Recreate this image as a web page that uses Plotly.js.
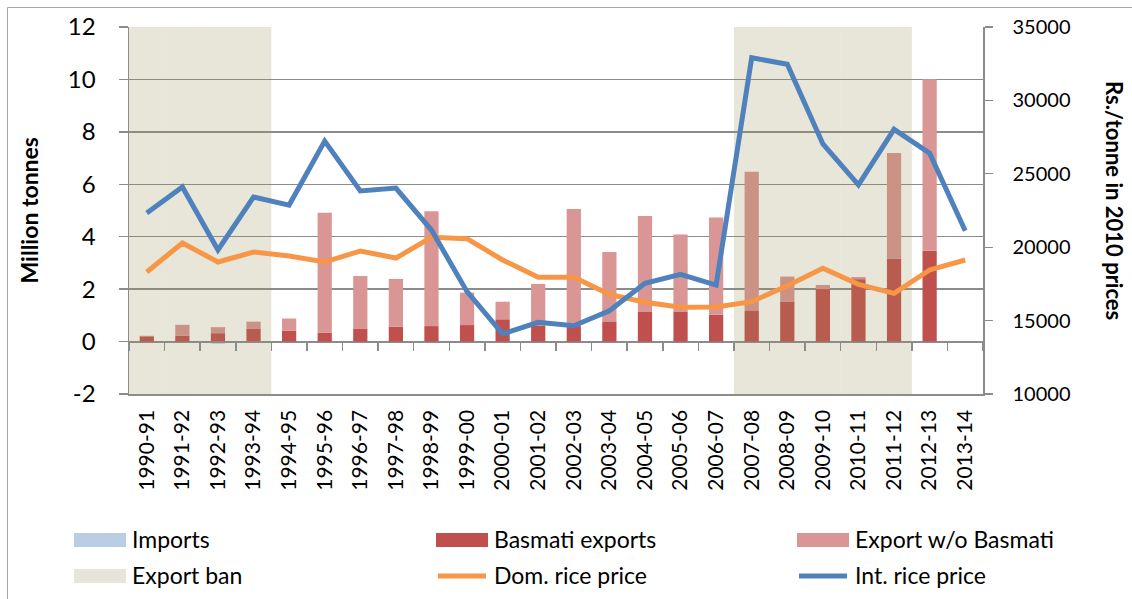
<!DOCTYPE html>
<html>
<head>
<meta charset="utf-8">
<script src="https://cdn.plot.ly/plotly-3.0.1.min.js"></script>
<style>
html,body{margin:0;padding:0;background:#fff;}
#chart{width:1132px;height:599px;}
</style>
</head>
<body>
<div id="chart"></div>
<script>
const categories = ['1990-91','1991-92','1992-93','1993-94','1994-95','1995-96','1996-97','1997-98','1998-99','1999-00','2000-01','2001-02','2002-03','2003-04','2004-05','2005-06','2006-07','2007-08','2008-09','2009-10','2010-11','2011-12','2012-13','2013-14'];
const imports = [0,0,-0.08,-0.05,0,0,0,0,0,0,0,0,0,0,0,0,0,0,0,0,0,0,0,null];
const basmatiExports = [0.2,0.23,0.32,0.5,0.42,0.34,0.5,0.57,0.59,0.63,0.85,0.62,0.59,0.77,1.15,1.15,1.03,1.17,1.53,2.0,2.38,3.17,3.46,null];
const exportWoBasmati = [0.02,0.41,0.23,0.26,0.46,4.57,2.0,1.82,4.38,1.24,0.67,1.58,4.47,2.65,3.64,2.93,3.7,5.31,0.95,0.16,0.08,4.02,6.55,null];
const exportBan = [1,1,1,1,0,0,0,0,0,0,0,0,0,0,0,0,0,1,1,1,1,1,0,0];
const domRicePrice = [18310,20290,18990,19670,19400,18990,19740,19260,20670,20580,19130,17950,17950,16790,16250,15910,15930,16290,17380,18560,17470,16860,18450,19130];
const intRicePrice = [22330,24100,19810,23420,22870,27230,23830,24030,21170,16970,14090,14880,14650,15670,17540,18150,17420,32910,32460,27030,24240,28030,26400,21120];
const leftTicks = [-2,0,2,4,6,8,10,12];
const leftTickLabels = ['-2','0','2','4','6','8','10','12'];
const rightTicks = [10000,15000,20000,25000,30000,35000];

const FONT = 'Lato, "Open Sans", sans-serif';
const GRID = '#8c8c8c';
const C = {imports:'#b9cde5', basmati:'#c0504d', nonb:'#d99694', ban:'#e7e5da', banOverlay:'rgba(148,138,84,0.22)', dom:'#f79646', intl:'#4f81bd'};

// plot area in pixels
const L = 129, R = 983, T = 27, B = 394;
const px = x => (x - L) / (R - L);
const py = y => (B - y) / (B - T);

const traces = [
  {type:'bar', name:'Imports', x:categories, y:imports, marker:{color:C.imports, line:{width:0}}, xaxis:'x', yaxis:'y'},
  {type:'bar', name:'Basmati exports', x:categories, y:basmatiExports, marker:{color:C.basmati, line:{width:0}}, xaxis:'x', yaxis:'y'},
  {type:'bar', name:'Export w/o Basmati', x:categories, y:exportWoBasmati, marker:{color:C.nonb, line:{width:0}}, xaxis:'x', yaxis:'y'},
  {type:'bar', name:'Export ban', x:categories, y:exportBan, width:1, marker:{color:C.banOverlay, line:{width:0}}, xaxis:'x', yaxis:'y2'},
  {type:'scatter', mode:'lines', name:'Dom. rice price', x:categories, y:domRicePrice, line:{color:C.dom, width:5}, xaxis:'x', yaxis:'y3'},
  {type:'scatter', mode:'lines', name:'Int. rice price', x:categories, y:intRicePrice, line:{color:C.intl, width:5}, xaxis:'x', yaxis:'y3'},
  {type:'scatter', mode:'markers', x:categories, y:categories.map(()=>null), showlegend:false, hoverinfo:'skip', xaxis:'x2', yaxis:'y'}
];

const shapes = [];
const annotations = [];
// chart border (left and top visible)
shapes.push({type:'line', xref:'paper', yref:'paper', x0:px(7.5), x1:px(7.5), y0:py(7.5), y1:py(620), line:{color:'#a6a6a6', width:1}});
shapes.push({type:'line', xref:'paper', yref:'paper', x0:px(7.5), x1:px(1150), y0:py(7.5), y1:py(7.5), line:{color:'#a6a6a6', width:1}});

// legend
const legendItems = [
  {name:'Imports', kind:'rect', color:C.imports, col:0, row:0},
  {name:'Basmati exports', kind:'rect', color:C.basmati, col:1, row:0},
  {name:'Export w/o Basmati', kind:'rect', color:C.nonb, col:2, row:0},
  {name:'Export ban', kind:'rect', color:C.ban, col:0, row:1},
  {name:'Dom. rice price', kind:'line', color:C.dom, col:1, row:1},
  {name:'Int. rice price', kind:'line', color:C.intl, col:2, row:1}
];
const colX = [74, 436, 797];
const rowY = [540, 576];
legendItems.forEach(it => {
  const x0 = colX[it.col], yc = rowY[it.row];
  if (it.kind === 'rect') {
    shapes.push({type:'rect', xref:'paper', yref:'paper', x0:px(x0), x1:px(x0+52), y0:py(yc+7), y1:py(yc-7), fillcolor:it.color, line:{width:0}});
  } else {
    shapes.push({type:'line', xref:'paper', yref:'paper', x0:px(x0+2), x1:px(x0+50), y0:py(yc), y1:py(yc), line:{color:it.color, width:5}});
  }
  annotations.push({xref:'paper', yref:'paper', x:px(x0+56), y:py(yc-1), xanchor:'left', yanchor:'middle', showarrow:false, text:it.name, font:{family:FONT, size:23, color:'#000'}});
});

// axis titles
annotations.push({xref:'paper', yref:'paper', x:px(28), y:py(210.5), xanchor:'center', yanchor:'middle', showarrow:false, textangle:-90, text:'<b>Million tonnes</b>', font:{family:FONT, size:23, color:'#000'}});
annotations.push({xref:'paper', yref:'paper', x:px(1115), y:py(200), xanchor:'center', yanchor:'middle', showarrow:false, textangle:90, text:'<b>Rs./tonne in 2010 prices</b>', font:{family:FONT, size:22, color:'#000'}});

const layout = {
  width:1132, height:599,
  margin:{l:L, r:1132-R, t:T, b:599-B, pad:0},
  paper_bgcolor:'#fff', plot_bgcolor:'#fff',
  showlegend:false,
  barmode:'relative', bargap:0.6,
  font:{family:FONT, color:'#000'},
  xaxis:{type:'category', categoryorder:'array', categoryarray:categories, range:[-0.5, categories.length-0.5],
         tickangle:-90, ticks:'', showgrid:false, zeroline:false, showline:true, linecolor:GRID, linewidth:1.5,
         tickfont:{family:FONT, size:21, color:'#000'}, ticklabelstandoff:6, fixedrange:true},
  xaxis2:{type:'category', categoryorder:'array', categoryarray:categories, range:[-0.5, categories.length-0.5],
          overlaying:'x', anchor:'free', position:py(341.7), tickson:'boundaries', ticks:'outside', ticklen:8, tickwidth:1.5, tickcolor:GRID,
          showticklabels:false, showgrid:false, zeroline:false, showline:true, linecolor:GRID, linewidth:1.5},
  yaxis:{range:[-2,12], tickvals:leftTicks, ticktext:leftTickLabels, ticks:'outside', ticklen:9, tickwidth:1.3, tickcolor:GRID,
         showgrid:true, gridcolor:GRID, gridwidth:1.3, zeroline:false, showline:true, linecolor:GRID, linewidth:1.5,
         tickfont:{family:FONT, size:24, color:'#000'}, ticklabelstandoff:18},
  yaxis2:{range:[0,1], overlaying:'y', visible:false, fixedrange:true},
  yaxis3:{range:[10000,35000], tickvals:rightTicks, tickformat:'d', overlaying:'y', side:'right', anchor:'x',
          ticks:'outside', ticklen:8, tickwidth:1.3, tickcolor:GRID, showgrid:false, zeroline:false,
          showline:true, linecolor:GRID, linewidth:1.5, tickfont:{family:FONT, size:20, color:'#000'}, ticklabelstandoff:16},
  shapes:shapes,
  annotations:annotations
};

Plotly.newPlot('chart', traces, layout, {displayModeBar:false, staticPlot:true});
</script>
</body>
</html>
